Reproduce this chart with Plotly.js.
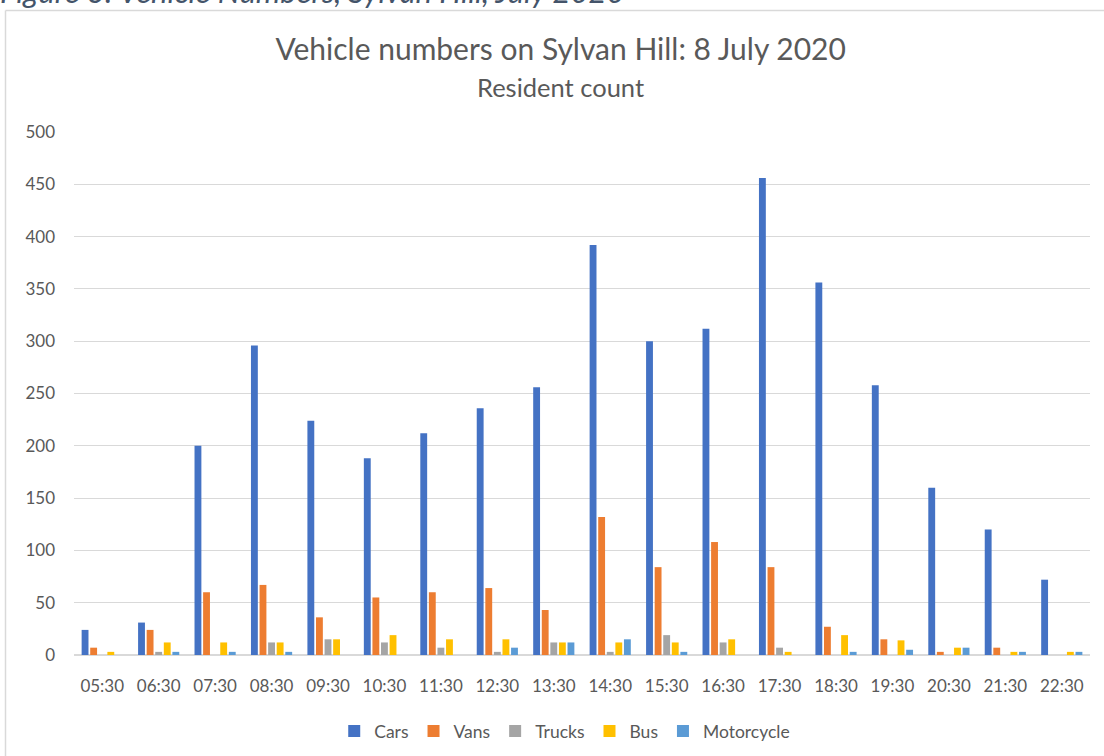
<!DOCTYPE html>
<html>
<head>
<meta charset="utf-8">
<script src="https://cdn.plot.ly/plotly-3.0.1.min.js"></script>
<style>
  html, body { margin: 0; padding: 0; background: #ffffff; }
  #chart { width: 1104px; height: 756px; }
</style>
</head>
<body>
<div id="chart"></div>
<script>
const categories = ['05:30','06:30','07:30','08:30','09:30','10:30','11:30','12:30','13:30','14:30','15:30','16:30','17:30','18:30','19:30','20:30','21:30','22:30'];
const cars   = [24, 31, 200, 296, 224, 188, 212, 236, 256, 392, 300, 312, 456, 356, 258, 160, 120, 72];
const vans   = [7, 24, 60, 67, 36, 55, 60, 64, 43, 132, 84, 108, 84, 27, 15, 3, 7, 0];
const trucks = [0, 3, 0, 12, 15, 12, 7, 3, 12, 3, 19, 12, 7, 0, 0, 0, 0, 0];
const bus    = [3, 12, 12, 12, 15, 19, 15, 15, 12, 12, 12, 15, 3, 19, 14, 7, 3, 3];
const moto   = [0, 3, 3, 3, 0, 0, 0, 7, 12, 15, 3, 0, 0, 3, 5, 7, 3, 3];
const seriesNames = ['Cars', 'Vans', 'Trucks', 'Bus', 'Motorcycle'];
const seriesColors = ['#4472C4', '#ED7D31', '#A5A5A5', '#FFC000', '#5B9BD5'];
const seriesData = [cars, vans, trucks, bus, moto];

const FONT = 'Lato, "Open Sans", sans-serif';
const GREY = '#595959';

const traces = seriesData.map((vals, i) => ({
  type: 'bar',
  name: seriesNames[i],
  x: categories,
  y: vals,
  marker: { color: seriesColors[i], line: { width: 0 } },
  hoverinfo: 'x+y+name'
}));

const layout = {
  width: 1104,
  height: 756,
  paper_bgcolor: '#ffffff',
  plot_bgcolor: '#ffffff',
  margin: { l: 74, r: 14, t: 132, b: 101, autoexpand: false },
  font: { family: FONT, color: GREY, size: 16 },
  barmode: 'group',
  bargap: 0.24,
  bargroupgap: 0.2,
  title: {
    text: 'Vehicle numbers on Sylvan Hill: 8 July 2020',
    font: { family: FONT, size: 30, color: GREY },
    xref: 'paper', x: 0.479, xanchor: 'center',
    yref: 'container', y: 1 - 49 / 756, yanchor: 'middle'
  },
  xaxis: {
    type: 'category',
    showgrid: false,
    showline: false,
    zeroline: false,
    ticks: '',
    ticklabelstandoff: 19,
    tickfont: { family: FONT, size: 17, color: GREY }
  },
  yaxis: {
    range: [0, 500],
    dtick: 50,
    tick0: 0,
    showgrid: true,
    gridcolor: '#D9D9D9',
    gridwidth: 1,
    zeroline: true,
    zerolinecolor: '#D9D9D9',
    zerolinewidth: 2,
    showline: false,
    ticks: '',
    ticklabelstandoff: 18,
    tickfont: { family: FONT, size: 17, color: GREY }
  },
  showlegend: true,
  legend: {
    orientation: 'h',
    x: 0.483, xanchor: 'center',
    y: (655 - 731) / 523, yanchor: 'middle',
    font: { family: FONT, size: 17.5, color: GREY },
    itemwidth: 30,
    traceorder: 'normal'
  },
  annotations: [
    {
      text: 'Resident count',
      xref: 'paper', yref: 'paper',
      x: 0.479, xanchor: 'center',
      y: (655 - 87) / 523, yanchor: 'middle',
      showarrow: false,
      font: { family: FONT, size: 25.5, color: GREY }
    },
    {
      text: '<i>Figure 3: Vehicle Numbers, Sylvan Hill, July 2020</i>',
      xref: 'paper', yref: 'paper',
      x: (-2 - 74) / 1016, xanchor: 'left',
      y: (655 + 9) / 523, yanchor: 'middle',
      showarrow: false,
      font: { family: FONT, size: 31, color: '#44546A' }
    }
  ],
  shapes: [
    {
      type: 'line', xref: 'paper', yref: 'paper',
      x0: (5.5 - 74) / 1016, x1: (1110 - 74) / 1016,
      y0: (655 - 10.5) / 523, y1: (655 - 10.5) / 523,
      line: { color: '#D9D9D9', width: 1.5 }
    },
    {
      type: 'line', xref: 'paper', yref: 'paper',
      x0: (5.5 - 74) / 1016, x1: (5.5 - 74) / 1016,
      y0: (655 - 10.5) / 523, y1: (655 - 770) / 523,
      line: { color: '#D9D9D9', width: 1.5 }
    }
  ]
};

Plotly.newPlot('chart', traces, layout, { displayModeBar: false, responsive: false });
</script>
</body>
</html>
